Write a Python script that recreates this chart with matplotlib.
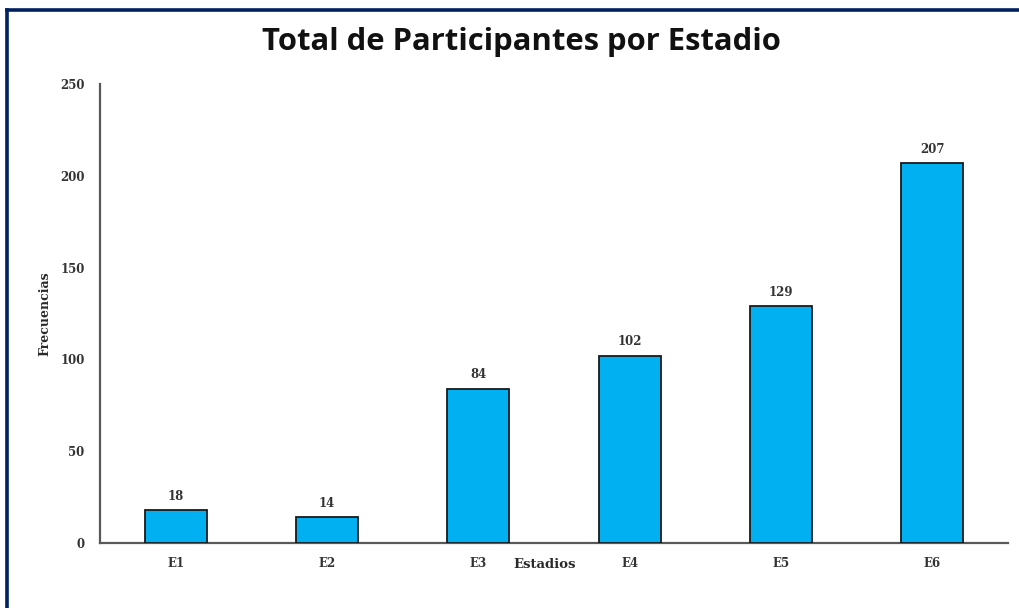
import matplotlib
matplotlib.use("Agg")
import matplotlib.pyplot as plt
from matplotlib.lines import Line2D

categories = ["E1", "E2", "E3", "E4", "E5", "E6"]
values = [18, 14, 84, 102, 129, 207]
yticks = [0, 50, 100, 150, 200, 250]

W, H = 1020, 608
fig = plt.figure(figsize=(W / 100, H / 100), dpi=100)
fig.patch.set_facecolor("white")

ax = fig.add_axes([100 / W, (H - 543) / H, (1008 - 100) / W, (543 - 84) / H])
x = list(range(len(categories)))
ax.bar(x, values, width=0.41, color="#00B0F0", edgecolor="#1a1a1a", linewidth=1.3, zorder=3)

ax.set_xlim(-0.5, 5.5)
ax.set_ylim(0, 250)
ax.set_yticks(yticks)
ax.set_xticks(x)
ax.set_xticklabels(categories)

serif = ["DejaVu Serif"]
for lab in ax.get_xticklabels() + ax.get_yticklabels():
    lab.set_fontfamily(serif)
    lab.set_fontweight("bold")
    lab.set_fontsize(8.5)
    lab.set_color("#333333")
ax.tick_params(axis="both", length=0)
ax.tick_params(axis="y", pad=11)
ax.tick_params(axis="x", pad=10)

for s in ("top", "right"):
    ax.spines[s].set_visible(False)
for s in ("left", "bottom"):
    ax.spines[s].set_color("#595959")
    ax.spines[s].set_linewidth(1.6)

for xi, v in zip(x, values):
    ax.annotate(str(v), (xi, v), xytext=(0, 7.5), textcoords="offset points",
                ha="center", va="baseline", fontfamily=serif, fontweight="bold",
                fontsize=8.5, color="#333333")

fig.text(545 / W, 1 - 565 / H, "Estadios", ha="center", va="center",
         fontfamily=serif, fontweight="bold", fontsize=9.5, color="#2a2a2a")
fig.text(45 / W, 1 - 314 / H, "Frecuencias", ha="center", va="center", rotation=90,
         fontfamily=serif, fontweight="bold", fontsize=9, color="#2a2a2a")

fig.text(521 / W, 1 - 42 / H, "Total de Participantes por Estadio", ha="center", va="center",
         fontfamily=["Open Sans", "DejaVu Sans"], fontweight="bold", fontsize=22.3, color="#111111")

# frame lines along the top and left edges
fig.add_artist(Line2D([7.5 / W, 1], [1 - 9.5 / H, 1 - 9.5 / H], color="#002060", linewidth=2.6,
                      transform=fig.transFigure))
fig.add_artist(Line2D([7.5 / W, 7.5 / W], [0, 1 - 9.5 / H], color="#002060", linewidth=2.6,
                      transform=fig.transFigure))

fig.savefig("out.png", dpi=100, facecolor="white")
